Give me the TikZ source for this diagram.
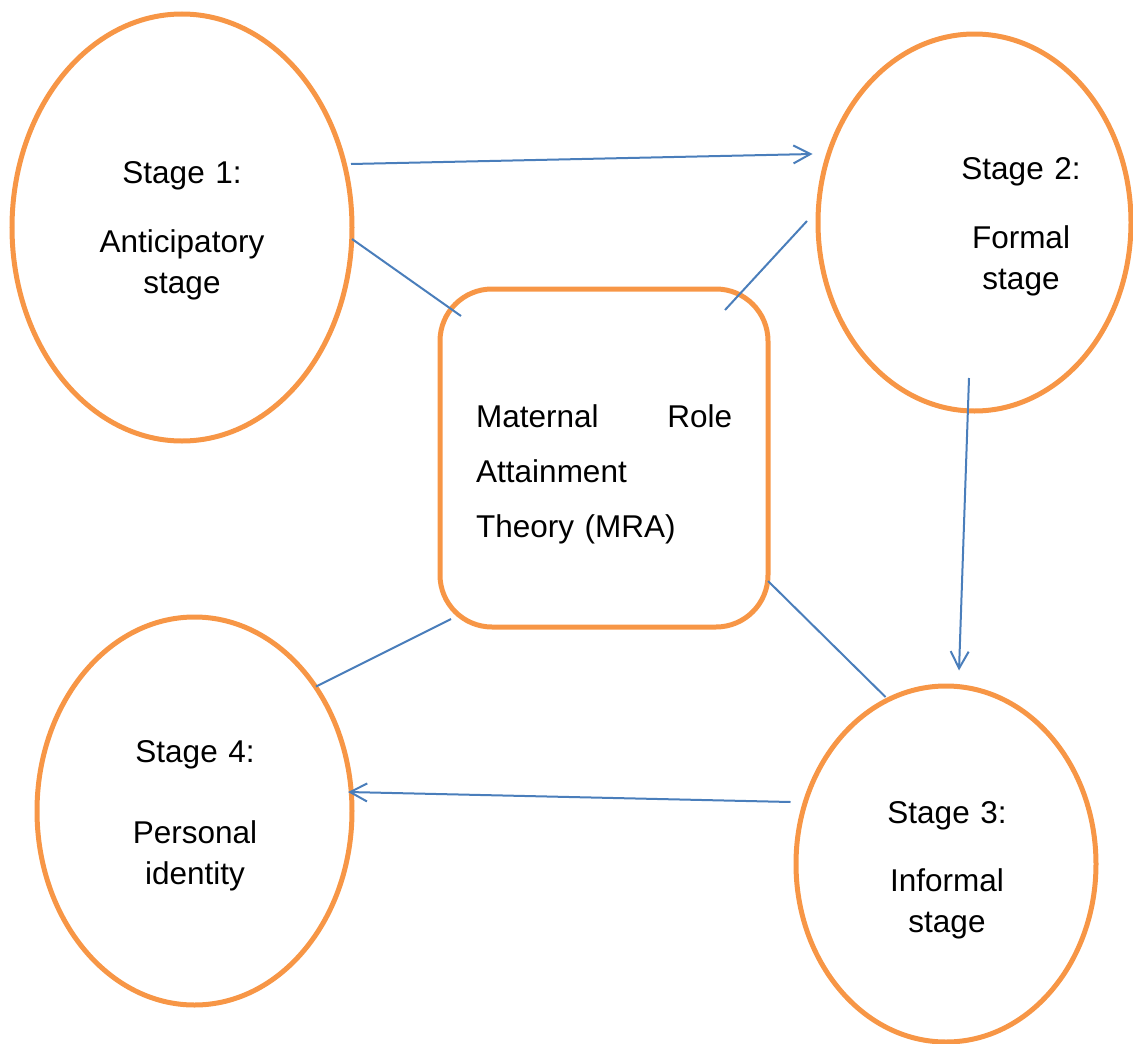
\documentclass[tikz,border=0pt]{standalone}
\usepackage{fontspec}
\setmainfont{Liberation Sans}
\usepackage{tikz}
\usetikzlibrary{shapes.geometric,arrows.meta}
\definecolor{StageOrange}{HTML}{F79646}
\definecolor{LinkBlue}{HTML}{4A7EBB}
\tikzset{
  stage/.style = {ellipse, draw=StageOrange, line width=5pt,
    inner sep=0pt},% ellipse of one stage
  theory/.style = {rectangle, rounded corners=52pt, draw=StageOrange,
    line width=5pt, inner sep=0pt},% central box
  stagetext/.style = {align=center, inner sep=0pt, text width=200pt,
    anchor=base, font=\fontsize{31.5}{41.5}\selectfont},
  theorytext/.style = {align=left, inner sep=0pt, text width=256pt,
    anchor=base west, font=\fontsize{31.5}{55}\selectfont},
  link/.style = {draw=LinkBlue, line width=2pt},% plain line
  flow/.style = {link, -{Straight Barb[length=17pt, width=18pt]}}% line with arrow
}

\begin{document}
\begin{tikzpicture}[x=1pt, y=-1pt]
	\useasboundingbox (0,0) rectangle (1133,1044);
	% stages and centre
	\node [stage, minimum width=340pt, minimum height=427pt] (s1) at (182,227.5) {};
	\node [stage, minimum width=313pt, minimum height=377pt] (s2) at (974.5,222.5) {};
	\node [stage, minimum width=300pt, minimum height=356pt] (s3) at (946,864) {};
	\node [stage, minimum width=315pt, minimum height=388pt] (s4) at (194.5,811) {};
	\node [theory, minimum width=328pt, minimum height=338pt] (mra) at (604,458) {};
	% texts
	\node [stagetext] (t1) at (182,183) {Stage 1:\\[27.5pt]Anticipatory\\stage};
	\node [stagetext] (t2) at (1021,179) {Stage 2:\\[27.5pt]Formal\\stage};
	\node [stagetext] (t3) at (947,823) {Stage 3:\\[26.5pt]Informal\\stage};
	\node [stagetext] (t4) at (195,762) {Stage 4:\\[39.5pt]Personal\\identity};
	\node [theorytext] (tmra) at (476,427) {Maternal\hfill Role\\Attainment\\Theory (MRA)};
	% ends of the connectors
	\coordinate (s1out) at (351,164);
	\coordinate (s2in) at (812.5,154);
	\coordinate (s1mra) at (352,239);
	\coordinate (mras1) at (461,316);
	\coordinate (mras2) at (725,310);
	\coordinate (s2mra) at (807,221);
	\coordinate (s2out) at (969,378);
	\coordinate (s3in) at (959,670.5);
	\coordinate (mras3) at (768,581);
	\coordinate (s3mra) at (885.5,697);
	\coordinate (s3out) at (790.5,802);
	\coordinate (s4in) at (348,792);
	\coordinate (mras4) at (451,619);
	\coordinate (s4mra) at (316,686.5);
	% connectors
	\draw [flow] (s1out) -- (s2in);
	\draw [flow] (s2out) -- (s3in);
	\draw [flow] (s3out) -- (s4in);
	\draw [link] (s1mra) -- (mras1);
	\draw [link] (mras2) -- (s2mra);
	\draw [link] (mras3) -- (s3mra);
	\draw [link] (mras4) -- (s4mra);
\end{tikzpicture}
\end{document}
